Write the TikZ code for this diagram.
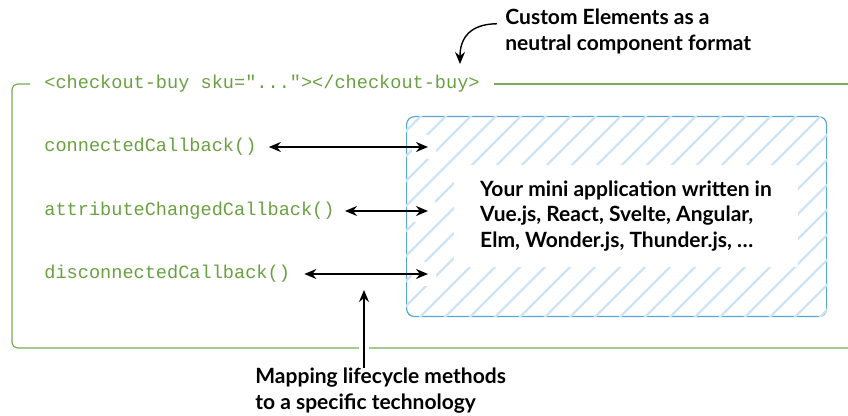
\documentclass[tikz,border=0pt]{standalone}
\usepackage{fontspec}
\setmainfont{Lato}
\setmonofont{Liberation Mono}
\usetikzlibrary{arrows.meta,positioning}
\definecolor{codegreen}{RGB}{106,160,65}
\definecolor{framegreen}{RGB}{122,172,82}
\definecolor{appblue}{RGB}{88,164,214}
\definecolor{hatchblue}{RGB}{204,228,245}
\begin{document}
\begin{tikzpicture}[x=0.5pt,y=-0.5pt,
  code/.style={font=\ttfamily\fontsize{9.3}{11}\selectfont,text=codegreen,anchor=west,inner sep=0pt},
  note/.style={font=\bfseries\fontsize{10.5}{12.8}\selectfont,align=left,inner sep=0pt,anchor=north west},
  frame/.style={draw=framegreen,line width=0.6pt},
  appbox/.style={draw=appblue,line width=0.6pt,rounded corners=4pt,minimum width=210pt,minimum height=100pt,anchor=north west,inner sep=0pt},
  link/.style={{Stealth[length=6pt,width=5pt]}-{Stealth[length=6pt,width=5pt]},line width=0.7pt},
  pointer/.style={-{Stealth[length=6pt,width=5pt]},line width=0.7pt}]
\useasboundingbox (0,0) rectangle (848,416);
% the custom element and its lifecycle callbacks
\node[code] (tag) at (44,84) {<checkout-buy sku="..."></checkout-buy>};
\node[code] (conn) at (44,147) {connectedCallback()};
\node[code] (attr) at (44,211) {attributeChangedCallback()};
\node[code] (disc) at (44,274) {disconnectedCallback()};
\draw[frame,rounded corners=3pt] (30,84) -- (12,84) -- (12,348) -- (848,348);
\draw[frame] ([xshift=7pt]tag.east) -- (848,84);
% the mini application, hatched
\node[appbox] (app) at (406,116) {};
\begin{scope}
\clip[rounded corners=4pt] (app.north west) rectangle (app.south east);
\foreach \x in {190,215,...,840}
  \draw[hatchblue,line width=1.1pt,line cap=round] (\x,322) -- (\x+212,110);
\end{scope}
\node[note,anchor=center,fill=white,inner xsep=13pt,inner ysep=8pt] (mini) at (626,216)
  {Your mini application written in\\Vue.js, React, Svelte, Angular,\\Elm, Wonder.js, Thunder.js, \dots};
\foreach \n in {conn,attr,disc}
  \fill[white,rounded corners=3pt] ([xshift=3pt,yshift=6pt]app.west |- \n) rectangle ([xshift=15pt,yshift=-6pt]app.west |- \n);
\draw[link] ([xshift=6pt]conn.east) -- ([xshift=11pt]app.west |- conn);
\draw[link] ([xshift=5pt]attr.east) -- ([xshift=11pt]app.west |- attr);
\draw[link] ([xshift=7pt]disc.east) -- ([xshift=11pt]app.west |- disc);
% notes
\node[note] (custom) at (505,9) {Custom Elements as a\\neutral component format};
\draw[pointer] ([xshift=-4pt,yshift=4pt]custom.west) .. controls (470,24) and (460,38) .. (460,64);
\node[note] (map) at (255,368) {Mapping lifecycle methods\\to a specific technology};
\coordinate (mapto) at (364,290);
\draw[pointer,preaction={draw=white,line width=5pt,shorten >=8pt}] (map.north -| mapto) -- (mapto);
\end{tikzpicture}
\end{document}
